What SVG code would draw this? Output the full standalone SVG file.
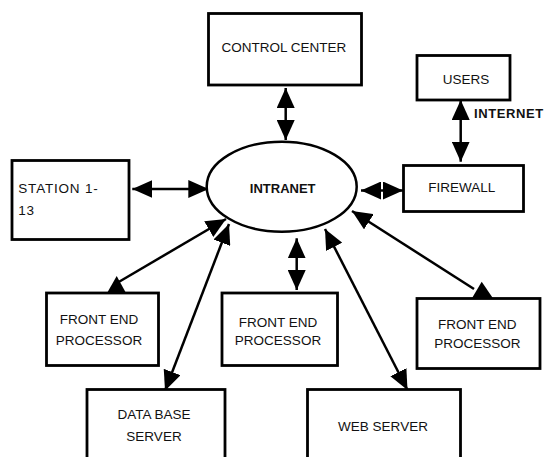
<svg xmlns="http://www.w3.org/2000/svg" width="547" height="457" viewBox="0 0 547 457">
<defs>
<style>
.box{fill:#fff;stroke:#000;stroke-width:2.8}
.t{font-family:"Liberation Sans",Arial,sans-serif;font-size:13.5px;fill:#111;text-anchor:middle}
.tl{font-family:"Liberation Sans",Arial,sans-serif;font-size:13.5px;fill:#111;text-anchor:start;letter-spacing:0.8px}
.b{font-family:"Liberation Sans",Arial,sans-serif;font-size:13px;font-weight:bold;fill:#111}
.c{stroke:#000;stroke-width:2.5;fill:none}
</style>
<marker id="ah" viewBox="0 0 20 18" refX="20" refY="9" markerWidth="20" markerHeight="18" markerUnits="userSpaceOnUse" orient="auto-start-reverse">
<path d="M0,0 L20,9 L0,18 z" fill="#000"/>
</marker>
</defs>
<rect width="547" height="457" fill="#fff"/>
<g id="connectors">
<line class="c" x1="285.7" y1="88" x2="285.7" y2="140" marker-start="url(#ah)" marker-end="url(#ah)"/>
<line class="c" x1="460.7" y1="100" x2="460.7" y2="161.7" marker-start="url(#ah)" marker-end="url(#ah)"/>
<line class="c" x1="132.3" y1="189" x2="208.3" y2="189" marker-start="url(#ah)" marker-end="url(#ah)"/>
<line class="c" x1="361" y1="190.5" x2="403" y2="190.5" marker-start="url(#ah)" marker-end="url(#ah)"/>
<line class="c" x1="296.7" y1="238.3" x2="296.7" y2="290" marker-start="url(#ah)" marker-end="url(#ah)"/>
<line class="c" x1="226" y1="219" x2="117" y2="283" marker-start="url(#ah)"/>
<polygon points="116.7,276 106.5,294 126,293" fill="#000"/>
<line class="c" x1="229" y1="224" x2="165" y2="390.7" marker-start="url(#ah)" marker-end="url(#ah)"/>
<line class="c" x1="325" y1="229" x2="407.5" y2="390" marker-start="url(#ah)" marker-end="url(#ah)"/>
<line class="c" x1="352" y1="211" x2="474" y2="289" marker-start="url(#ah)"/>
<polygon points="481.7,281.7 471.5,299 493.5,299" fill="#000"/>
</g>
<g id="intranet">
<ellipse cx="281.7" cy="186.7" rx="75" ry="45" fill="#fff" stroke="#000" stroke-width="2.5"/>
<text class="b" x="282.7" y="192.7" text-anchor="middle">INTRANET</text>
</g>
<g id="control-center">
<rect class="box" x="208.5" y="13.5" width="153" height="71.5"/>
<text class="t" x="284" y="51.7">CONTROL CENTER</text>
</g>
<g id="users">
<rect class="box" x="417" y="55.5" width="93" height="44.5"/>
<text class="t" x="466" y="84">USERS</text>
</g>
<g id="internet-label">
<text class="b" x="474" y="117.5" letter-spacing="0.6">INTERNET</text>
</g>
<g id="station">
<rect class="box" x="12" y="160.5" width="117" height="79"/>
<text class="tl" x="18.3" y="192.7">STATION 1-</text>
<text class="tl" x="18.3" y="215">13</text>
</g>
<g id="firewall">
<rect class="box" x="403.5" y="165.5" width="120" height="46"/>
<text class="t" x="461.7" y="191.7">FIREWALL</text>
</g>
<g id="fep-left">
<rect class="box" x="46.5" y="293" width="112" height="72.5"/>
<text class="t" x="99" y="324">FRONT END</text>
<text class="t" x="99" y="345">PROCESSOR</text>
</g>
<g id="fep-middle">
<rect class="box" x="222" y="293" width="115.5" height="72.5"/>
<text class="t" x="278" y="326.7">FRONT END</text>
<text class="t" x="278" y="345">PROCESSOR</text>
</g>
<g id="fep-right">
<rect class="box" x="417" y="298.5" width="123" height="70"/>
<text class="t" x="477.3" y="329.3">FRONT END</text>
<text class="t" x="477.3" y="348">PROCESSOR</text>
</g>
<g id="database-server">
<rect class="box" x="87" y="389.5" width="138" height="80"/>
<text class="t" x="154" y="419.3">DATA BASE</text>
<text class="t" x="154" y="440.7">SERVER</text>
</g>
<g id="web-server">
<rect class="box" x="307.5" y="389.5" width="153" height="80"/>
<text class="t" x="383" y="430.7">WEB SERVER</text>
</g>
</svg>
